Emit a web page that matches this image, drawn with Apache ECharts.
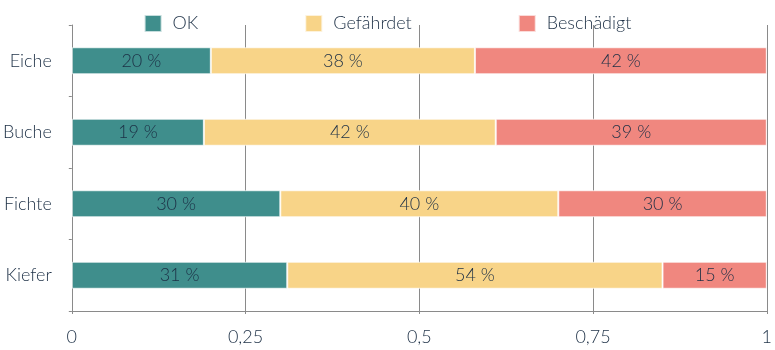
<!DOCTYPE html>
<html>
<head>
<meta charset="utf-8">
<script src="https://cdn.jsdelivr.net/npm/echarts@6/dist/echarts.min.js"></script>
<style>
  html, body { margin: 0; padding: 0; background: #ffffff; }
  #chart { width: 775px; height: 350px; }
</style>
</head>
<body>
<div id="chart"></div>
<script>
// Baumarten und Anteile des Kronenzustands (Anteil 0..1)
const categories = ['Eiche', 'Buche', 'Fichte', 'Kiefer'];
const seriesNames = ['OK', 'Gefährdet', 'Beschädigt'];
const okValues = [0.20, 0.19, 0.30, 0.31];
const gefaehrdetValues = [0.38, 0.42, 0.40, 0.54];
const beschaedigtValues = [0.42, 0.39, 0.30, 0.15];
const xTicks = [0, 0.25, 0.5, 0.75, 1];

const colors = ['#3f8e8c', '#f8d488', '#f0877f'];
const textColor = '#1c2f45';
const fontFamily = 'Lato, "Open Sans", sans-serif';
const fontSize = 18;

function pct(v) {
  return Math.round(v * 100) + ' %';
}

function makeSeries(name, values, color) {
  return {
    name: name,
    type: 'bar',
    stack: 'gesamt',
    data: values,
    barWidth: 27,
    itemStyle: {
      color: color,
      borderColor: 'rgba(255,255,255,0.7)',
      borderWidth: 1
    },
    label: {
      show: true,
      position: 'inside',
      formatter: p => pct(p.value),
      color: textColor,
      fontFamily: fontFamily,
      fontSize: fontSize,
      fontWeight: 300
    },
    emphasis: { disabled: true }
  };
}

const chart = echarts.init(document.getElementById('chart'), null, { renderer: 'canvas' });
chart.setOption({
  animation: false,
  textStyle: { fontFamily: fontFamily, color: textColor },
  legend: {
    data: seriesNames,
    top: 9,
    left: 'center',
    itemWidth: 17,
    itemHeight: 17,
    itemGap: 106,
    icon: 'rect',
    textStyle: { fontSize: fontSize, fontWeight: 300, color: textColor, fontFamily: fontFamily, padding: [0, 0, 0, 6] }
  },
  grid: { left: 70, right: 7, top: 25, bottom: 39, containLabel: false },
  xAxis: {
    type: 'value',
    min: 0,
    max: 1,
    interval: 0.25,
    axisLine: { show: true, lineStyle: { color: '#8a8a8a', width: 1 } },
    axisTick: { show: true, length: 3, lineStyle: { color: '#8a8a8a' } },
    splitLine: { show: true, lineStyle: { color: '#8a8a8a', width: 1 } },
    axisLabel: {
      color: textColor,
      fontSize: fontSize,
      fontWeight: 300,
      fontFamily: fontFamily,
      margin: 17,
      formatter: v => {
        const t = xTicks.find(x => Math.abs(x - v) < 1e-9);
        return String(t !== undefined ? t : v).replace('.', ',');
      }
    }
  },
  yAxis: {
    type: 'category',
    data: categories,
    inverse: true,
    axisLine: { show: true, lineStyle: { color: '#8a8a8a', width: 1 } },
    axisTick: { show: true, length: 3, lineStyle: { color: '#8a8a8a' } },
    axisLabel: { color: textColor, fontSize: fontSize, fontWeight: 300, fontFamily: fontFamily, margin: 20 }
  },
  series: [
    makeSeries(seriesNames[0], okValues, colors[0]),
    makeSeries(seriesNames[1], gefaehrdetValues, colors[1]),
    makeSeries(seriesNames[2], beschaedigtValues, colors[2])
  ]
});
</script>
</body>
</html>
